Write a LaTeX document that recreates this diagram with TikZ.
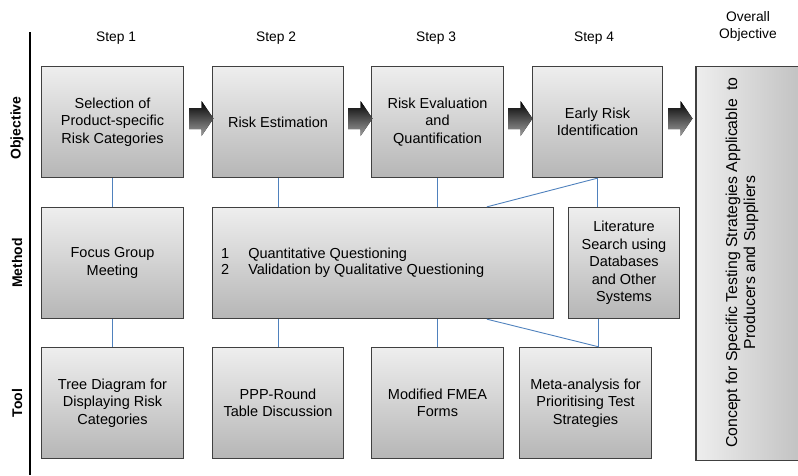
\documentclass[tikz,border=0pt]{standalone}
\usepackage{fontspec}
\setmainfont{Liberation Sans}
\usetikzlibrary{calc}
\definecolor{conn}{RGB}{79,129,189}
\definecolor{boxtop}{RGB}{238,238,238}
\definecolor{boxbot}{RGB}{182,182,182}
\definecolor{boxline}{RGB}{64,64,64}
\tikzset{
  box/.style={draw=boxline, line width=1.3pt, top color=boxtop, bottom color=boxbot,
    rectangle, align=center, inner sep=2pt,
    font=\fontsize{14.5}{17.6}\selectfont},
  rowbox/.style={box, minimum height=111pt},
  steplbl/.style={font=\fontsize{13.8}{17}\selectfont, align=center},
  rowlbl/.style={font=\bfseries\fontsize{14}{17}\selectfont, rotate=90},
  link/.style={draw=conn, line width=0.9pt},
  blockarrow/.style={top color=black, bottom color=gray!75, draw=none}
}
\begin{document}
\begin{tikzpicture}[x=1pt,y=-1pt]
\useasboundingbox (0,0) rectangle (798,475);
% axis
\draw[line width=2pt] (30,32) -- (30,475);
% labels
\node[steplbl] (s1) at (116,38) {Step 1};
\node[steplbl] (s2) at (276,38) {Step 2};
\node[steplbl] (s3) at (436,38) {Step 3};
\node[steplbl] (s4) at (594,38) {Step 4};
\node[steplbl] (ov) at (748,26) {Overall\\Objective};
\node[rowlbl] (lo) at (17,128) {Objective};
\node[rowlbl] (lm) at (17,263) {Method};
\node[rowlbl] (lt) at (17,403) {Tool};
% objective row
\node[rowbox, minimum width=142pt] (o1) at (112.5,122) {Selection of\\Product-specific\\Risk Categories};
\node[rowbox, minimum width=131pt] (o2) at (278,122) {Risk Estimation};
\node[rowbox, minimum width=132pt] (o3) at (437.5,122) {Risk Evaluation\\and\\Quantification};
\node[rowbox, minimum width=130pt] (o4) at (597.5,122) {Early Risk\\Identification};
% method row
\node[rowbox, minimum width=142pt] (m1) at (112.5,263) {Focus Group\\Meeting};
\node[rowbox, minimum width=341pt] (mw) at (383,263) {};
\node[anchor=west, font=\fontsize{14.5}{17.5}\selectfont, inner sep=0pt] (mwt) at (221,263)
  {\begin{tabular}{@{}l@{\hspace{19pt}}l@{}}1 & Quantitative Questioning\\[-0.8pt] 2 & Validation by Qualitative Questioning\end{tabular}};
\node[rowbox, minimum width=111pt] (lit) at (624,263) {Literature\\Search using\\Databases\\and Other\\Systems};
% tool row
\node[rowbox, minimum width=142pt] (t1) at (112.5,403) {Tree Diagram for\\Displaying Risk\\Categories};
\node[rowbox, minimum width=131pt] (t2) at (278,403) {PPP-Round\\Table Discussion};
\node[rowbox, minimum width=132pt] (t3) at (437.5,403) {Modified FMEA\\Forms};
\node[rowbox, minimum width=132pt] (t4) at (585.5,403) {Meta-analysis for\\Prioritising Test\\Strategies};
% overall objective box
\node[draw=boxline, line width=1.3pt, left color=boxtop, right color=boxbot!90,
  minimum width=116pt, minimum height=394pt, inner sep=0pt] (ob) at (754,263.5) {};
\node[rotate=90, align=center, font=\fontsize{15.8}{18}\selectfont] (obt) at (742,262.5)
  {Concept for Specific Testing Strategies Applicable \ to\\Producers and Suppliers};
% block arrows
\foreach \xa/\nm in {189/a1, 348/a2, 508/a3, 668/a4} {
  \fill[blockarrow] (\xa,108) -- (\xa+12.5,108) -- (\xa+12.5,101) -- (\xa+24.5,118.5)
     -- (\xa+12.5,136) -- (\xa+12.5,129) -- (\xa,129) -- cycle;
}
% connectors
\coordinate (mwA) at ($(mw.north west)+(275,0)$);
\coordinate (mwB) at ($(mw.south west)+(275,0)$);
\coordinate (t4A) at ($(t4.north west)+(80,0)$);
\coordinate (litA) at ($(lit.south west)+(31,0)$);
\path[link] (o1.south) -- (m1.north);
\path[link] (o2.south) -- (o2.south |- mw.north);
\path[link] (o3.south) -- (o3.south |- mw.north);
\path[link] (o4.south) -- (o4.south |- lit.north);
\path[link] (o4.south) -- (mwA);
\path[link] (m1.south) -- (m1.south |- t1.north);
\path[link] (t2.north) -- (t2.north |- mw.south);
\path[link] (t3.north) -- (t3.north |- mw.south);
\path[link] (mwB) -- (t4A);
\path[link] (litA) -- (t4A);
\end{tikzpicture}
\end{document}
